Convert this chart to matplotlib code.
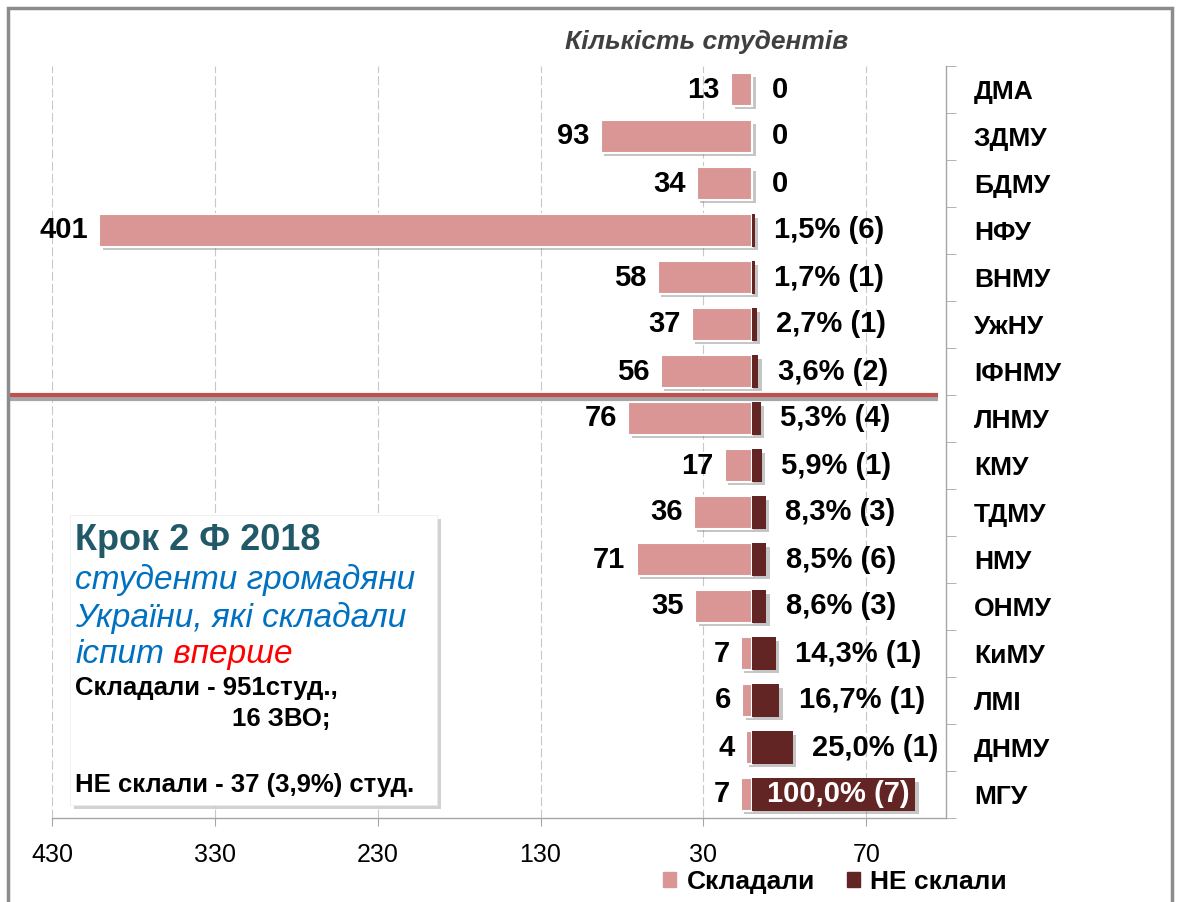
import numpy as np
import matplotlib.pyplot as plt
import matplotlib.patheffects as pe
from matplotlib.patches import Patch, Rectangle
from matplotlib.text import Annotation

plt.rcParams['font.family'] = ['Liberation Sans', 'DejaVu Sans']

# дані
zvo = ['ДМА', 'ЗДМУ', 'БДМУ', 'НФУ', 'ВНМУ', 'УжНУ', 'ІФНМУ', 'ЛНМУ',
       'КМУ', 'ТДМУ', 'НМУ', 'ОНМУ', 'КиМУ', 'ЛМІ', 'ДНМУ', 'МГУ']
skladaly = [13, 93, 34, 401, 58, 37, 56, 76, 17, 36, 71, 35, 7, 6, 4, 7]
ne_sklaly = [0, 0, 0, 6, 1, 1, 2, 4, 1, 3, 6, 3, 1, 1, 1, 7]
vidsotok = [0, 0, 0, 1.5, 1.7, 2.7, 3.6, 5.3, 5.9, 8.3, 8.5, 8.6, 14.3, 16.7, 25.0, 100.0]
tick_pos = [-430, -330, -230, -130, -30, 70]
tick_txt = ['430', '330', '230', '130', '30', '70']

ROZOVYI = '#D99694'
BORDO = '#632523'
W, H = 1177, 902

fig = plt.figure(figsize=(W / 100, H / 100), dpi=100)
ax = fig.add_axes([52 / W, 1 - 818 / H, (946 - 52) / W, (818 - 66) / H])

y = np.arange(len(zvo))
ten = [pe.SimplePatchShadow(offset=(2.5, -2.5), shadow_rgbFace='#7f7f7f', alpha=0.45), pe.Normal()]

ax.barh(y, -np.array(skladaly), height=0.7, color=ROZOVYI, edgecolor='white',
        linewidth=1.5, path_effects=ten, zorder=3)
ax.barh(y, vidsotok, height=0.7, color=BORDO, linewidth=0, path_effects=ten, zorder=4)

# підписи
for i in range(len(zvo)):
    ax.annotate(str(skladaly[i]), xy=(-skladaly[i], i), xytext=(-8, 0),
                textcoords='offset points', ha='right', va='center',
                fontsize=21, fontweight='bold', zorder=6)
    if ne_sklaly[i] == 0:
        txt = '0'
    else:
        txt = f"{vidsotok[i]:.1f}".replace('.', ',') + f"% ({ne_sklaly[i]})"
    if vidsotok[i] >= 50:
        ax.text(vidsotok[i] / 2 + 3, i, txt, ha='center', va='center', color='white',
                fontsize=21, fontweight='bold', zorder=6)
    else:
        ax.annotate(txt, xy=(vidsotok[i], i), xytext=(14, 0), textcoords='offset points',
                    ha='left', va='center', fontsize=21, fontweight='bold', zorder=6)

ax.set_xlim(-430, 119)
ax.set_ylim(len(zvo) - 0.5, -0.5)

ax.set_xticks(tick_pos)
ax.set_xticklabels(tick_txt)
ax.tick_params(axis='x', length=6, color='#a6a6a6', pad=12, labelsize=18)
ax.xaxis.grid(True, linestyle=(0, (8, 3)), color='#c8c8c8', linewidth=0.8)
ax.set_axisbelow(True)

ax.yaxis.tick_right()
ax.set_yticks(y)
ax.set_yticklabels(zvo, fontsize=19, fontweight='bold')
ax.set_yticks(np.arange(-0.5, len(zvo), 1), minor=True)
ax.tick_params(axis='y', which='major', length=0, pad=20)
ax.tick_params(axis='y', which='minor', length=7, direction='out', color='#a6a6a6',
               right=True, left=False)

for s in ['left', 'top']:
    ax.spines[s].set_visible(False)
for s in ['bottom', 'right']:
    ax.spines[s].set_color('#a6a6a6')
    ax.spines[s].set_linewidth(1)

# червона лінія
ax.plot([-456, 114], [6.5, 6.5], color='#C0504D', lw=3, clip_on=False,
        solid_capstyle='butt', zorder=5,
        path_effects=[pe.SimpleLineShadow(offset=(0, -3), shadow_color='#a6a6a6', alpha=1),
                      pe.Normal()])

fig.text(707 / W, 1 - 42 / H, 'Кількість студентів', ha='center', va='center',
         fontsize=19, style='italic', weight='bold', color='#404040')

fig.legend(handles=[Patch(color=ROZOVYI, label='Складали'), Patch(color=BORDO, label='НЕ склали')],
           loc='center', bbox_to_anchor=(835 / W, 1 - 882 / H), ncol=2, frameon=False,
           prop=dict(weight='bold', size=19), handlelength=0.5, handleheight=0.5,
           handletextpad=0.4, columnspacing=1.2)

# текстовий блок
blok = Rectangle((70 / W, 1 - 805 / H), 367 / W, 290 / H, transform=fig.transFigure,
                 facecolor='white', edgecolor='#ececec', linewidth=0.5, zorder=10,
                 path_effects=[pe.SimplePatchShadow(offset=(3, -3), shadow_rgbFace='#909090', alpha=0.4),
                               pe.Normal()])
fig.add_artist(blok)

fig.text(75 / W, 1 - 550 / H, 'Крок 2 Ф 2018', va='baseline', fontsize=26,
         weight='bold', color='#215968', zorder=11)
fig.text(75 / W, 1 - 589 / H, 'студенти громадяни', va='baseline', fontsize=24,
         style='italic', color='#0070C0', zorder=11)
fig.text(75 / W, 1 - 627 / H, 'України, які складали', va='baseline', fontsize=24,
         style='italic', color='#0070C0', zorder=11)
t_ispyt = fig.text(75 / W, 1 - 663 / H, 'іспит', va='baseline', fontsize=24,
                   style='italic', color='#0070C0', zorder=11)
vpershe = Annotation(' вперше', xy=(1, 0), xycoords=t_ispyt, ha='left', va='bottom',
                     fontsize=24, style='italic', color='#FF0000', zorder=11)
fig.add_artist(vpershe)
fig.text(75 / W, 1 - 695 / H, 'Складали - 951студ.,', va='baseline', fontsize=18.5,
         weight='bold', color='black', zorder=11)
fig.text(232 / W, 1 - 726 / H, '16 ЗВО;', va='baseline', fontsize=18.5,
         weight='bold', color='black', zorder=11)
fig.text(75 / W, 1 - 792 / H, 'НЕ склали - 37 (3,9%) студ.', va='baseline', fontsize=18.5,
         weight='bold', color='black', zorder=11)

# рамка
fig.add_artist(Rectangle((8 / W, -0.05), (1172 - 8) / W, 1.05 - 8 / H,
                         transform=fig.transFigure, fill=False, edgecolor='#8c8c8c',
                         linewidth=2.5, zorder=12))

plt.savefig('out.png', dpi=100)
